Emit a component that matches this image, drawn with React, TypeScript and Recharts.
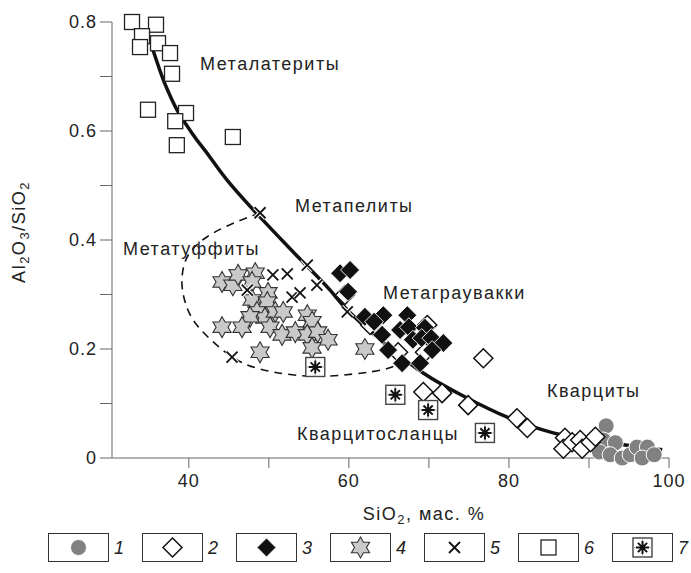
import React from 'react';
import { ComposedChart, Line, Scatter, XAxis, YAxis } from 'recharts';

const FONT = '"Liberation Sans", Arial, Helvetica, sans-serif';

// points are [SiO2 %, Al2O3/SiO2]
// 1 - grey circles
const group1 = [
  [92.15, 0.059], [91.8, 0.033], [93.3, 0.028], [91.3, 0.011], [92.65, 0.006], [94.15, 0.0],
  [95.15, 0.006], [96.0, 0.02], [97.3, 0.02], [96.65, 0.0], [98.15, 0.006],
];
// 2 - open diamonds
const group2 = [
  [59.5, 0.299], [62.65, 0.244], [66.15, 0.194], [69.8, 0.244], [69.5, 0.194],
  [69.3, 0.121], [71.65, 0.119], [74.9, 0.097], [81.0, 0.073], [82.3, 0.055], [76.8, 0.183],
  [87.0, 0.037], [86.8, 0.017], [87.9, 0.029], [88.9, 0.033], [89.15, 0.017], [90.2, 0.029], [90.8, 0.039],
];
// 3 - black diamonds
const group3 = [
  [58.9, 0.339], [60.15, 0.345], [59.9, 0.305], [62.0, 0.259], [64.3, 0.262], [63.15, 0.25],
  [64.15, 0.226], [67.3, 0.262], [66.4, 0.235], [67.5, 0.24], [68.0, 0.217], [69.5, 0.239],
  [69.1, 0.22], [70.3, 0.22], [71.8, 0.211], [70.4, 0.198], [64.9, 0.198], [66.65, 0.174], [68.9, 0.174],
];
// 4 - stars
const group4 = [
  [44.15, 0.323], [45.5, 0.317], [46.15, 0.336], [48.3, 0.339], [47.9, 0.323], [47.9, 0.29],
  [49.9, 0.303], [49.8, 0.286], [48.5, 0.268], [49.5, 0.257], [50.8, 0.268], [51.8, 0.268],
  [47.65, 0.259], [44.15, 0.24], [46.65, 0.24], [50.15, 0.24], [51.65, 0.226], [53.3, 0.231],
  [54.8, 0.262], [55.4, 0.25], [54.8, 0.226], [56.1, 0.231], [57.4, 0.217], [55.4, 0.202],
  [48.9, 0.194], [62.0, 0.2],
];
// 5 - crosses
const group5 = [
  [48.9, 0.45], [54.8, 0.354], [50.5, 0.336], [52.3, 0.338], [56.0, 0.317], [52.9, 0.295],
  [53.9, 0.303], [59.8, 0.268], [45.4, 0.185], [47.3, 0.308],
];
// 6 - open squares
const group6 = [
  [32.9, 0.8], [35.9, 0.795], [34.15, 0.774], [33.9, 0.754], [36.15, 0.761], [37.65, 0.743],
  [37.9, 0.705], [34.9, 0.639], [39.65, 0.633], [38.3, 0.618], [38.5, 0.574], [45.5, 0.589],
];
// 7 - boxed asterisks
const group7 = [[55.8, 0.167], [65.8, 0.116], [69.9, 0.088], [77.0, 0.046]];

// trend curve and dashed field boundary
const trendCurve = [
  [35.4, 0.754], [36.78, 0.695], [37.9, 0.657], [38.9, 0.629], [40.4, 0.596], [41.4, 0.576],
  [42.65, 0.552], [44.78, 0.51], [48.65, 0.446], [52.0, 0.394], [54.78, 0.352], [57.65, 0.308],
  [59.78, 0.272], [63.9, 0.217], [69.28, 0.156], [74.53, 0.112], [79.78, 0.075], [85.53, 0.046],
  [90.15, 0.033], [94.53, 0.024], [99.15, 0.015],
];
const tuffiteField = [
  [48.9, 0.45], [45.15, 0.428], [42.3, 0.406], [40.4, 0.382], [39.4, 0.354], [39.15, 0.317],
  [39.65, 0.281], [41.0, 0.244], [43.9, 0.202], [46.8, 0.174], [50.5, 0.158], [55.5, 0.15],
  [60.5, 0.154], [64.5, 0.163], [66.4, 0.174],
];

const xTicks = [40, 50, 60, 70, 80, 90, 100];
const xLabels = [40, 60, 80, 100];
const yTicks = [0, 0.1, 0.2, 0.3, 0.4, 0.5, 0.6, 0.7, 0.8];
const yLabels = ['0', '0.2', '0.4', '0.6', '0.8'];

const regionLabels = [
  { text: 'Металатериты', left: 200, top: 55 },
  { text: 'Метапелиты', left: 295, top: 197 },
  { text: 'Метатуффиты', left: 123, top: 240 },
  { text: 'Метаграувакки', left: 383, top: 284 },
  { text: 'Кварциты', left: 547, top: 382 },
  { text: 'Кварцитосланцы', left: 297, top: 425 },
];
const legendNumbers = ['1', '2', '3', '4', '5', '6', '7'];

const toPoints = (arr: number[][]) => arr.map(([x, y]) => ({ x, y }));

const CircleMark = ({ cx, cy }: any) => (
  <circle cx={cx} cy={cy} r={8} fill="#818181" stroke="#fff" strokeWidth={1} />
);

const diamondPath = (cx: number, cy: number, h: number) =>
  `M${cx},${cy - h}L${cx + h},${cy}L${cx},${cy + h}L${cx - h},${cy}Z`;

const OpenDiamond = ({ cx, cy }: any) => (
  <path d={diamondPath(cx, cy, 9.5)} fill="#fff" stroke="#111" strokeWidth={1.5} />
);

const BlackDiamond = ({ cx, cy }: any) => (
  <path d={diamondPath(cx, cy, 9.5)} fill="#111" stroke="#fff" strokeWidth={0.9} />
);

const StarMark = ({ cx, cy }: any) => {
  const pts: string[] = [];
  for (let i = 0; i < 12; i++) {
    const r = i % 2 === 0 ? 10.5 : 6;
    const a = (-90 + i * 30) * Math.PI / 180;
    pts.push(`${(cx + r * Math.cos(a)).toFixed(2)},${(cy + r * Math.sin(a)).toFixed(2)}`);
  }
  return <polygon points={pts.join(' ')} fill="#c9c9c9" stroke="#333" strokeWidth={1.1} />;
};

const CrossMark = ({ cx, cy }: any) => {
  const d = 5.5;
  const p = `M${cx - d},${cy - d}L${cx + d},${cy + d}M${cx + d},${cy - d}L${cx - d},${cy + d}`;
  return (
    <g>
      <path d={p} stroke="#fff" strokeWidth={4} />
      <path d={p} stroke="#111" strokeWidth={1.8} />
    </g>
  );
};

const SquareMark = ({ cx, cy }: any) => (
  <rect x={cx - 7.5} y={cy - 7.5} width={15} height={15} fill="#fff" stroke="#222" strokeWidth={1.3} />
);

const AsteriskBox = ({ cx, cy }: any) => {
  const a = 6.5;
  const b = 4.6;
  return (
    <g>
      <rect x={cx - 9.5} y={cy - 9.5} width={19} height={19} fill="#fff" stroke="#444" strokeWidth={1.4} />
      <path d={`M${cx},${cy - 9.5}V${cy + 9.5}M${cx - 9.5},${cy}H${cx + 9.5}`} stroke="#999" strokeWidth={0.8} />
      <path
        d={`M${cx},${cy - a}V${cy + a}M${cx - a},${cy}H${cx + a}M${cx - b},${cy - b}L${cx + b},${cy + b}M${cx + b},${cy - b}L${cx - b},${cy + b}`}
        stroke="#111"
        strokeWidth={2}
      />
    </g>
  );
};

const legendMarks = [CircleMark, OpenDiamond, BlackDiamond, StarMark, CrossMark, SquareMark, AsteriskBox];

const textStyle: React.CSSProperties = {
  position: 'absolute',
  fontFamily: FONT,
  fontSize: 18,
  lineHeight: '18px',
  letterSpacing: 1.5,
  color: '#222',
  whiteSpace: 'nowrap',
};

export default function App() {
  return (
    <div style={{ position: 'absolute', left: 0, top: 0, width: 691, height: 573, background: '#fff' }}>
      <ComposedChart width={691} height={573} margin={{ top: 22, right: 22, bottom: 85, left: 52 }}>
        <XAxis
          type="number"
          dataKey="x"
          domain={[30.4, 100]}
          ticks={xTicks}
          height={30}
          tickSize={10}
          tickMargin={6}
          tickFormatter={(v: number) => (xLabels.includes(v) ? String(v) : '')}
          stroke="#666"
          tick={{ fill: '#222', fontSize: 18, fontFamily: FONT, letterSpacing: 1 }}
        />
        <YAxis
          type="number"
          dataKey="y"
          domain={[0, 0.8]}
          ticks={yTicks}
          width={60}
          tickSize={12}
          tickMargin={3}
          tickFormatter={(v: number) => {
            const k = Math.round(v * 10);
            return k % 2 === 0 ? yLabels[k / 2] : '';
          }}
          stroke="#666"
          tick={{ fill: '#222', fontSize: 18, fontFamily: FONT, letterSpacing: 1 }}
        />
        <Line
          data={toPoints(tuffiteField)}
          dataKey="y"
          type="natural"
          stroke="#111"
          strokeWidth={1.6}
          strokeDasharray="8 6"
          dot={false}
          isAnimationActive={false}
        />
        <Line
          data={toPoints(trendCurve)}
          dataKey="y"
          type="natural"
          stroke="#111"
          strokeWidth={3.5}
          dot={false}
          isAnimationActive={false}
        />
        <Scatter data={toPoints(group1)} shape={CircleMark} isAnimationActive={false} />
        <Scatter data={toPoints(group2)} shape={OpenDiamond} isAnimationActive={false} />
        <Scatter data={toPoints(group3)} shape={BlackDiamond} isAnimationActive={false} />
        <Scatter data={toPoints(group4)} shape={StarMark} isAnimationActive={false} />
        <Scatter data={toPoints(group5)} shape={CrossMark} isAnimationActive={false} />
        <Scatter data={toPoints(group6)} shape={SquareMark} isAnimationActive={false} />
        <Scatter data={toPoints(group7)} shape={AsteriskBox} isAnimationActive={false} />
      </ComposedChart>

      {regionLabels.map((l) => (
        <div key={l.text} style={{ ...textStyle, left: l.left, top: l.top }}>
          {l.text}
        </div>
      ))}

      <div
        style={{
          ...textStyle,
          left: 22,
          top: 232,
          transform: 'translate(-50%, -50%) rotate(-90deg)',
        }}
      >
        Al<sub style={{ fontSize: 13 }}>2</sub>O<sub style={{ fontSize: 13 }}>3</sub>/SiO<sub style={{ fontSize: 13 }}>2</sub>
      </div>
      <div style={{ ...textStyle, left: 424, top: 517, transform: 'translate(-50%, -50%)' }}>
        SiO<sub style={{ fontSize: 13 }}>2</sub>, мас. %
      </div>

      {legendNumbers.map((n, i) => {
        const Mark = legendMarks[i];
        const left = 48 + i * 94;
        return (
          <React.Fragment key={n}>
            <div
              style={{
                position: 'absolute',
                left,
                top: 533,
                width: 61,
                height: 29,
                boxSizing: 'border-box',
                border: '1px solid #333',
              }}
            >
              <svg width={59} height={27} style={{ display: 'block' }}>
                <Mark cx={29.5} cy={13.5} />
              </svg>
            </div>
            <div style={{ ...textStyle, left: left + 66, top: 539, fontStyle: 'italic', letterSpacing: 0 }}>{n}</div>
          </React.Fragment>
        );
      })}
    </div>
  );
}
